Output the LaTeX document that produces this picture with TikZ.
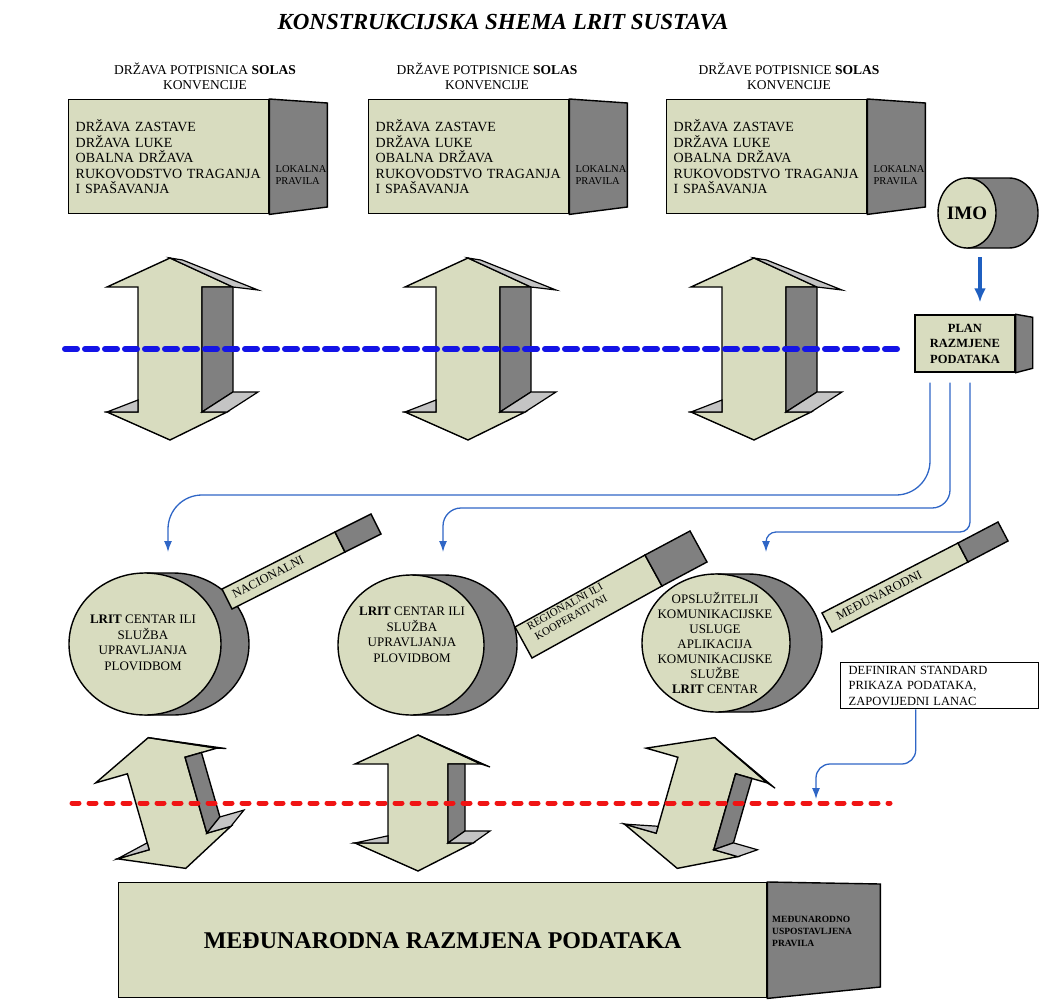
\documentclass[tikz,border=0pt]{standalone}
\usepackage{fontspec}
\setmainfont{Liberation Serif}
\usetikzlibrary{arrows.meta}
\definecolor{boxfill}{HTML}{D8DCBF}
\definecolor{sidegray}{HTML}{808080}
\definecolor{edgegray}{HTML}{C4C4C4}
\definecolor{linkblue}{HTML}{2F66C6}
\definecolor{imoblue}{HTML}{1F5FC0}
\definecolor{dashblue}{HTML}{1414E6}
\definecolor{dashred}{HTML}{F01414}

\begin{document}
\begin{tikzpicture}[x=1pt, y=-1pt, >={Latex[length=11pt,width=8pt]},
    face/.style={draw=black, line width=1.4pt, fill=boxfill},
    side/.style={draw=black, line width=1.4pt, fill=sidegray},
    rim/.style={draw=black, line width=1.2pt, fill=edgegray},
    link/.style={->, linkblue, line width=1.3pt},
    hdr/.style={font=\fontsize{13.5}{15}\selectfont, align=center},
    boxtext/.style={font=\fontsize{14}{15.5}\selectfont},
    ruletext/.style={font=\fontsize{10.5}{12}\selectfont, align=left, inner sep=0pt},
    cyltext/.style={font=\fontsize{13}{15.5}\selectfont, align=center},
    bartext/.style={font=\fontsize{12.5}{13}\selectfont, align=center, inner sep=0pt}]
    \useasboundingbox (0,0) rectangle (1057,1001);

    % 0. Naslov
    \node[font=\fontsize{23}{27}\selectfont\bfseries\itshape] (title) at (503,22) {KONSTRUKCIJSKA SHEMA LRIT SUSTAVA};

    % 1. Tri drzave potpisnice: zaglavlje, kutija i bocna strana
    \foreach \bx/\hx/\hd/\n in {68/205/DRŽAVA POTPISNICA/A, 368/487/DRŽAVE POTPISNICE/B, 666/789/DRŽAVE POTPISNICE/C} {
        \node[hdr] (hdr\n) at (\hx,76) {\hd{} \textbf{SOLAS}\\KONVENCIJE};
        \node[face, boxtext, anchor=north west, minimum width=200pt, minimum height=114pt, text width=186pt, inner xsep=7pt, align=left] (box\n) at (\bx,99) {DRŽAVA ZASTAVE\\DRŽAVA LUKE\\OBALNA DRŽAVA\\RUKOVODSTVO TRAGANJA\\I SPAŠAVANJA};
        \draw[side] (box\n.north east) -- ++(58,4) -- ++(0,104) -- (box\n.south east) -- cycle;
        \node[ruletext, anchor=west] (rule\n) at ([xshift=6pt, yshift=-18pt]box\n.east) {LOKALNA\\PRAVILA};
    }

    % 2. IMO valjak i plan razmjene podataka
    \draw[side] (967,178) -- (1009,178) arc[start angle=90, end angle=-90, x radius=29pt, y radius=35pt] -- (967,248) -- cycle;
    \draw[face] (967,213) ellipse [x radius=29pt, y radius=35pt];
    \node[font=\fontsize{19}{21}\selectfont\bfseries, minimum width=58pt, minimum height=70pt, inner sep=0pt] (imo) at (967,213) {IMO};

    \node[face, font=\fontsize{12.5}{15.5}\selectfont\bfseries, minimum width=100pt, minimum height=57pt, align=center, inner sep=0pt] (plan) at (965,343.5) {PLAN\\RAZMJENE\\PODATAKA};
    \draw[side] (plan.north east) -- ++(17,3) -- ++(0,51) -- (plan.south east) -- cycle;
    \draw[->, imoblue, line width=3.2pt, >={Latex[length=14pt,width=12pt]}] ([xshift=13pt, yshift=-9pt]imo.south) -- ([xshift=15pt, yshift=12pt]plan.north);

    % 3. Dvostruke 3D strelice (gore i dolje)
    \foreach \ax/\ay/\rot/\L/\w/\d/\s/\e in {170/349/0/91/32/31/25/20, 468/349/0/91/32/31/25/20, 754/349/0/91/32/31/25/20,
                                              167/803/16/68/30/17/9/12, 418/803/0/68/30/17/9/12, 696/803/-16/68/30/17/9/12} {
        \begin{scope}[shift={(\ax,\ay)}, rotate=\rot]
            \draw[face] (0,-\L) -- (63,{-\L+29}) -- (\w,{-\L+29}) -- (\w,{\L-28}) -- ({63+\s-\d},{\L-28}) -- (0,\L)
                -- (-63,{\L-28}) -- (-\w,{\L-28}) -- (-\w,{-\L+29}) -- (-63,{-\L+29}) -- cycle;
            \draw[side] (\w,{-\L+29}) -- ({\w+\d},{-\L+29}) -- ({\w+\d},{\L-28-\e}) -- (\w,{\L-28}) -- cycle;
            \draw[rim] (0,-\L) -- ({\s/2},{-\L+2}) -- ({63+\s},{-\L+32}) -- (63,{-\L+29}) -- cycle;
            \draw[rim] (\w,{\L-28}) -- ({\w+\d},{\L-28-\e}) -- ({63+\s},{\L-28-\e}) -- ({63+\s-\d},{\L-28}) -- cycle;
            \draw[rim] (-63,{\L-28}) -- (-\w,{\L-28-0.6*\e}) -- (-\w,{\L-28}) -- cycle;
        \end{scope}
    }

    % Isprekidane linije preko strelica
    \draw[dashblue, line width=6pt, line cap=round, dash pattern=on 12pt off 8pt] (65,349) -- (898,349);
    \draw[dashred, line width=5pt, line cap=round, dash pattern=on 7pt off 10pt] (72,803) -- (890,803);

    % 4. LRIT centri (valjci)
    \foreach \cx/\cy/\rx/\ry/\dx in {145/644/76/71/28, 411/645/73/70/33, 716/643/74/69/32} {
        \draw[side] (\cx,{\cy-\ry}) -- ({\cx+\dx},{\cy-\ry}) arc[start angle=90, end angle=-90, x radius=\rx pt, y radius=\ry pt] -- (\cx,{\cy+\ry}) -- cycle;
        \draw[face] (\cx,\cy) ellipse [x radius=\rx pt, y radius=\ry pt];
    }
    \node[cyltext] (lritA) at (143,643) {\textbf{LRIT} CENTAR ILI\\SLUŽBA\\UPRAVLJANJA\\PLOVIDBOM};
    \node[cyltext] (lritB) at (412,635) {\textbf{LRIT} CENTAR ILI\\SLUŽBA\\UPRAVLJANJA\\PLOVIDBOM};
    \node[cyltext, font=\fontsize{13}{15}\selectfont] (lritC) at (715,643) {OPSLUŽITELJI\\KOMUNIKACIJSKE\\USLUGE\\APLIKACIJA\\KOMUNIKACIJSKE\\SLUŽBE\\\textbf{LRIT} CENTAR};

    % Kose trake uz valjke
    \draw[face] (222,589) -- (335,532) -- (345,552) -- (232,609) -- cycle;
    \draw[side] (335,532) -- (371,514) -- (381,534) -- (345,552) -- cycle;
    \node[bartext, rotate=27] (natl) at (268,577) {NACIONALNI};

    \draw[face] (515,627) -- (645,555) -- (662,586) -- (532,658) -- cycle;
    \draw[side] (645,555) -- (690,531) -- (707,562) -- (662,586) -- cycle;
    \node[bartext, font=\fontsize{11}{12.5}\selectfont, rotate=29] (regl) at (568,612) {REGIONALNI ILI\\KOOPERATIVNI};

    \draw[face] (822,613) -- (958,543) -- (968,562) -- (832,632) -- cycle;
    \draw[side] (958,543) -- (998,522) -- (1008,541) -- (968,562) -- cycle;
    \node[bartext, rotate=27] (intl) at (879,595) {MEĐUNARODNI};

    % Veze od plana prema centrima
    \coordinate (tipA) at (168,552);
    \coordinate (tipB) at (443,552);
    \coordinate (tipC) at (766,552);
    \draw[link] ([xshift=-35pt, yshift=-10pt]plan.south) [rounded corners=34pt] |- (168,495) [sharp corners] -- (tipA);
    \draw[link] ([xshift=-15pt, yshift=-10pt]plan.south) [rounded corners=18pt] |- (443,508) [sharp corners] -- (tipB);
    \draw[link] ([xshift=5pt, yshift=-10pt]plan.south) [rounded corners=10pt] |- (766,532) [sharp corners] -- (tipC);

    % 5. Standard prikaza podataka
    \node[draw, fill=white, line width=1.4pt, anchor=north west, minimum width=198pt, minimum height=46pt, text width=182pt, inner xsep=8pt, inner ysep=0pt, align=left, font=\fontsize{12.5}{15.5}\selectfont] (defstd) at (840,662) {DEFINIRAN STANDARD\\PRIKAZA PODATAKA,\\ZAPOVIJEDNI LANAC};
    \coordinate (redtip) at (816,799);
    \draw[link, rounded corners=14pt] ([xshift=-24pt]defstd.south) |- ([yshift=35pt]redtip) -- (redtip);

    % 6. Medunarodna razmjena podataka
    \node[face, anchor=north west, minimum width=648pt, minimum height=115pt, font=\fontsize{24}{28}\selectfont\bfseries] (mrp) at (118,882) {MEĐUNARODNA RAZMJENA PODATAKA};
    \draw[side] (mrp.north east) -- ++(113,2) -- ++(0,103) -- (mrp.south east) -- cycle;
    \node[ruletext, font=\fontsize{9.5}{12}\selectfont\bfseries, anchor=north west] (mrprule) at (772,916) {MEĐUNARODNO\\USPOSTAVLJENA\\PRAVILA};

\end{tikzpicture}
\end{document}
